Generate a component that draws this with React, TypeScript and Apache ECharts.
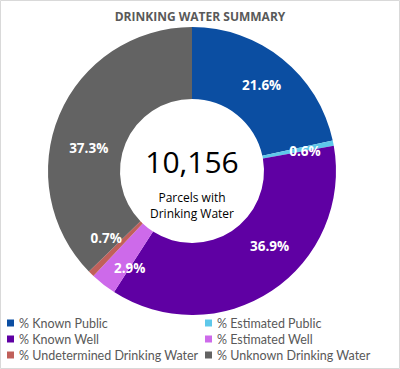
import React, { useEffect, useRef } from "react";
import * as echarts from "echarts";

const categories = [
  "% Known Public",
  "% Estimated Public",
  "% Known Well",
  "% Estimated Well",
  "% Undetermined Drinking Water",
  "% Unknown Drinking Water",
];
const values = [21.6, 0.6, 36.9, 2.9, 0.7, 37.3];
const totalParcels = "10,156";
const centerCaption = ["Parcels with", "Drinking Water"];
const titleText = "DRINKING WATER SUMMARY";

const colors = ["#0b4ea2", "#5ec8ea", "#5f00a3", "#cd6aea", "#c0605a", "#636363"];
const labelOffsets: [number, number][] = [
  [0, 0],
  [4, 1],
  [16, -17],
  [6, 10],
  [-8, -12],
  [-1, 20],
];

const FONT = "'Open Sans', 'Noto Sans', sans-serif";
const LEGEND_FONT = "Lato, 'Open Sans', sans-serif";

const legendBase = {
  top: 315,
  padding: 0,
  orient: "vertical",
  itemWidth: 7,
  itemHeight: 7,
  itemGap: 0,
  icon: "rect",
  textStyle: {
    fontFamily: LEGEND_FONT,
    fontSize: 12.5,
    color: "#595959",
    lineHeight: 16,
  },
};

export default function App() {
  const ref = useRef<HTMLDivElement>(null);
  useEffect(() => {
    document.body.style.margin = "0";
    const chart = echarts.init(ref.current!, null, { renderer: "svg" });
    chart.setOption({
      animation: false,
      backgroundColor: "#ffffff",
      color: colors,
      title: {
        text: titleText,
        left: "center",
        top: 5,
        textStyle: { fontFamily: FONT, fontSize: 12, fontWeight: "bold", color: "#595959" },
      },
      legend: [
        { ...legendBase, left: 7, data: categories.filter((_, i) => i % 2 === 0) },
        { ...legendBase, left: 205, data: categories.filter((_, i) => i % 2 === 1) },
      ],
      graphic: [
        {
          type: "rect",
          shape: { x: 0.5, y: 0.5, width: 399, height: 368 },
          style: { fill: "none", stroke: "#d9d9d9", lineWidth: 1 },
          silent: true,
        },
        {
          type: "text",
          x: 192,
          y: 161,
          style: {
            text: totalParcels,
            fontFamily: FONT,
            fontSize: 30,
            fill: "#000000",
            align: "center",
            verticalAlign: "middle",
          },
        },
        {
          type: "text",
          x: 192,
          y: 205,
          style: {
            text: centerCaption.join("\n"),
            fontFamily: FONT,
            fontSize: 12,
            lineHeight: 16,
            fill: "#000000",
            align: "center",
            verticalAlign: "middle",
          },
        },
      ],
      series: [
        {
          type: "pie",
          center: [192, 171],
          radius: [72, 144],
          startAngle: 90,
          clockwise: true,
          avoidLabelOverlap: false,
          label: {
            show: true,
            position: "inside",
            formatter: (p: any) => p.value.toFixed(1) + "%",
            fontFamily: FONT,
            fontSize: 13.5,
            fontWeight: "bold",
            color: "#ffffff",
          },
          labelLine: { show: false },
          emphasis: { disabled: true },
          data: categories.map((name, i) => ({
            name,
            value: values[i],
            label: { offset: labelOffsets[i] },
          })),
        },
      ],
    });
    return () => chart.dispose();
  }, []);
  return <div ref={ref} style={{ width: 400, height: 369 }} />;
}
